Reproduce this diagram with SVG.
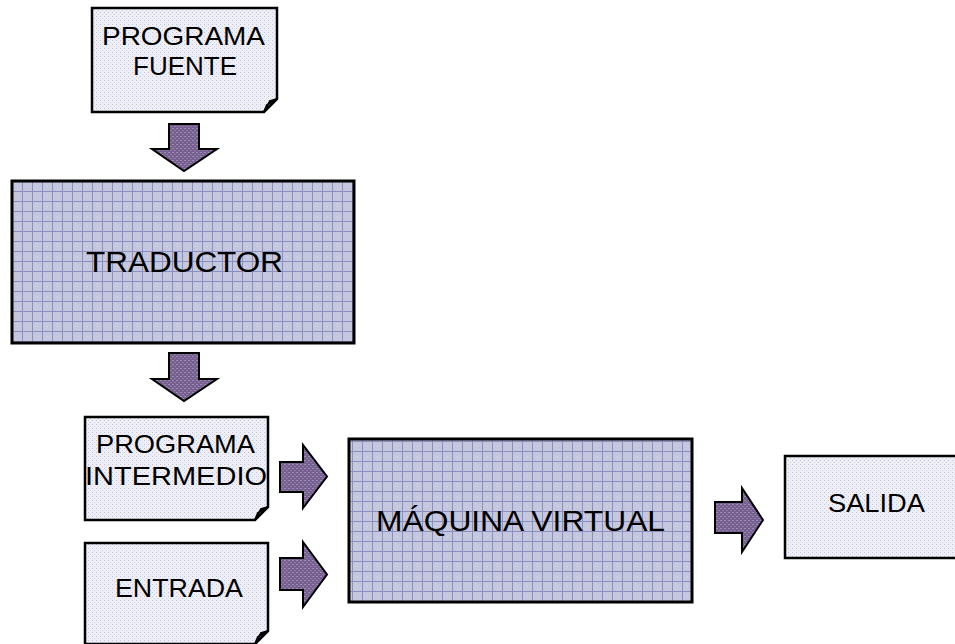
<svg xmlns="http://www.w3.org/2000/svg" width="955" height="644" viewBox="0 0 955 644">
<defs>
<pattern id="grid" width="10" height="10" patternUnits="userSpaceOnUse" x="2" y="1">
<rect width="10" height="10" fill="#c4c7dd"/>
<rect x="0" y="0" width="1" height="1" fill="#b0b4d2"/>
<rect x="5" y="5" width="1" height="1" fill="#d4d6e6"/>
<path d="M0 0.5H10M0.5 0V10" stroke="#8a8fbf" stroke-width="1"/>
</pattern>
<pattern id="dots" width="4" height="4" patternUnits="userSpaceOnUse">
<rect width="4" height="4" fill="#eeeff6"/>
<rect x="0" y="0" width="1" height="1" fill="#c3c6dc"/>
<rect x="2" y="2" width="1" height="1" fill="#d3d5e6"/>
</pattern>
<pattern id="purp" width="4" height="4" patternUnits="userSpaceOnUse">
<rect width="4" height="4" fill="#76608f"/>
<rect x="0" y="0" width="2" height="1" fill="#9c8cb4"/>
<rect x="2" y="2" width="2" height="1" fill="#8f7da8"/>
</pattern>
<style>
.doc{fill:url(#dots);stroke:#000;stroke-width:2.5}
.box{fill:url(#grid);stroke:#000;stroke-width:3}
.fold{fill:#fff;stroke:#000;stroke-width:2}
.arr{fill:url(#purp);stroke:#000;stroke-width:2;stroke-linejoin:miter}
text{font-family:"Liberation Sans",Arial,sans-serif;fill:#000}
.t26{font-size:26px}
.t29{font-size:29px}
</style>
</defs>

<g id="programa-fuente">
<path class="doc" d="M92 8H277V99L264 112H92Z"/>
<path class="fold" d="M277 99L270 101L264 112L267 105Z"/>
<text class="t26" x="102" y="45" textLength="163" lengthAdjust="spacingAndGlyphs">PROGRAMA</text>
<text class="t26" x="133" y="75" textLength="104" lengthAdjust="spacingAndGlyphs">FUENTE</text>
</g>

<g id="traductor">
<rect class="box" x="12" y="181" width="342" height="162"/>
<text class="t29" x="86" y="272" textLength="197" lengthAdjust="spacingAndGlyphs">TRADUCTOR</text>
</g>

<g id="programa-intermedio">
<path class="doc" d="M85 417H268V507L255 520H85Z"/>
<path class="fold" d="M268 507L261 509L255 520L258 513Z"/>
<text class="t26" x="96" y="453" textLength="159" lengthAdjust="spacingAndGlyphs">PROGRAMA</text>
<text class="t26" x="85" y="485" textLength="182" lengthAdjust="spacingAndGlyphs">INTERMEDIO</text>
</g>

<g id="entrada">
<path class="doc" d="M85 543H268V631L255 644H85Z"/>
<path class="fold" d="M268 631L261 633L255 644L258 637Z"/>
<text class="t26" x="115" y="597" textLength="128" lengthAdjust="spacingAndGlyphs">ENTRADA</text>
</g>

<g id="maquina-virtual">
<rect class="box" x="349" y="439" width="343" height="163"/>
<text class="t29" x="376" y="531" textLength="289" lengthAdjust="spacingAndGlyphs">MÁQUINA VIRTUAL</text>
</g>

<g id="salida">
<path class="doc" d="M785 456H960V558H785Z"/>
<text class="t26" x="828" y="512" textLength="97" lengthAdjust="spacingAndGlyphs">SALIDA</text>
</g>

<g id="connectors">
<path class="arr" d="M169 124H199V149H217L184 171L152 149H169Z"/>
<path class="arr" d="M169 353H199V379H217L184 401L152 379H169Z"/>
<path class="arr" d="M280 462H303V445L327 476.5L303 508V492H280Z"/>
<path class="arr" d="M280 558H303V542L327 574.5L303 607V590H280Z"/>
<path class="arr" d="M715 502H742V488L763 520L742 552V533H715Z"/>
</g>
</svg>
